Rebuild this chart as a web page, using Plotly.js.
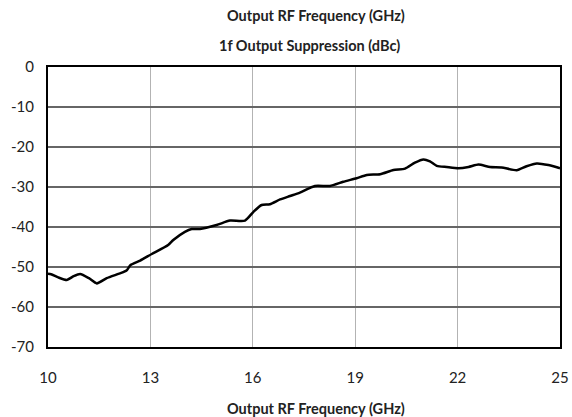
<!DOCTYPE html>
<html>
<head>
<meta charset="utf-8">
<script src="https://cdn.plot.ly/plotly-3.0.1.min.js"></script>
<style>html,body{margin:0;padding:0;background:#fff;}#chart{width:572px;height:417px;}</style>
</head>
<body>
<div id="chart"></div>
<script>
const freqGHz = [10.0, 10.09, 10.3, 10.55, 10.75, 10.94, 11.2, 11.43, 11.72, 12.11, 12.3, 12.42, 12.7, 13.04, 13.52, 13.67, 14.01, 14.21, 14.45, 14.94, 15.33, 15.77, 16.02, 16.26, 16.5, 16.8, 17.09, 17.38, 17.82, 18.26, 18.65, 19.04, 19.34, 19.73, 20.12, 20.46, 20.75, 21.0, 21.19, 21.39, 21.68, 22.02, 22.32, 22.61, 22.95, 23.29, 23.73, 24.02, 24.32, 24.66, 24.96, 25.0];
const suppression = [-51.7, -51.8, -52.6, -53.25, -52.3, -51.75, -52.8, -54.1, -52.8, -51.6, -50.9, -49.5, -48.4, -46.75, -44.5, -43.25, -41.2, -40.5, -40.5, -39.5, -38.4, -38.4, -36.2, -34.5, -34.3, -33.1, -32.25, -31.4, -29.75, -29.75, -28.7, -27.8, -27.0, -26.8, -25.75, -25.4, -23.9, -23.1, -23.6, -24.7, -25.0, -25.3, -25.0, -24.4, -25.0, -25.1, -25.8, -24.8, -24.1, -24.5, -25.2, -25.3];
const xTicks = [10, 13, 16, 19, 22, 25];
const yTicks = [0, -10, -20, -30, -40, -50, -60, -70];
const topTitle = 'Output RF Frequency (GHz)';
const plotTitle = '1f Output Suppression (dBc)';
const xTitle = 'Output RF Frequency (GHz)';

const fontFam = 'Lato, "Open Sans", sans-serif';
const txtCol = '#222';

Plotly.newPlot('chart', [{
  x: freqGHz, y: suppression, type: 'scatter', mode: 'lines',
  line: {color: '#000000', width: 2.5, shape: 'spline', smoothing: 0.6},
  hoverinfo: 'skip'
}], {
  width: 572, height: 417,
  margin: {l: 48, r: 12, t: 67, b: 70},
  paper_bgcolor: '#ffffff', plot_bgcolor: '#ffffff',
  showlegend: false,
  font: {family: fontFam, size: 14, color: txtCol},
  xaxis: {
    range: [10, 25], tickvals: xTicks, ticktext: xTicks.map(String),
    showgrid: true, gridcolor: '#b3b3b3', gridwidth: 1.3,
    zeroline: false, showline: true, mirror: true, linecolor: '#000', linewidth: 2,
    ticks: '', ticklen: 0, ticklabelstandoff: 16,
    tickfont: {family: fontFam, size: 15, color: txtCol}
  },
  yaxis: {
    range: [-70, 0], tickvals: yTicks, ticktext: yTicks.map(String),
    showgrid: true, gridcolor: '#666666', gridwidth: 1.3,
    zeroline: false, showline: true, mirror: true, linecolor: '#000', linewidth: 2,
    ticks: '', ticklen: 0, ticklabelstandoff: 9,
    tickfont: {family: fontFam, size: 15, color: txtCol}
  },
  annotations: [
    {text: '<b>' + topTitle + '</b>', xref: 'paper', yref: 'paper', x: 0.523, y: 1, yanchor: 'middle', xanchor: 'center', yshift: 52, showarrow: false, font: {family: fontFam, size: 14.5, color: txtCol}},
    {text: '<b>' + plotTitle + '</b>', xref: 'paper', yref: 'paper', x: 0.51, y: 1, yanchor: 'middle', xanchor: 'center', yshift: 22, showarrow: false, font: {family: fontFam, size: 14.5, color: txtCol}},
    {text: '<b>' + xTitle + '</b>', xref: 'paper', yref: 'paper', x: 0.523, y: 0, yanchor: 'middle', xanchor: 'center', yshift: -61, showarrow: false, font: {family: fontFam, size: 14.5, color: txtCol}}
  ]
}, {displayModeBar: false, staticPlot: true});
</script>
</body>
</html>
